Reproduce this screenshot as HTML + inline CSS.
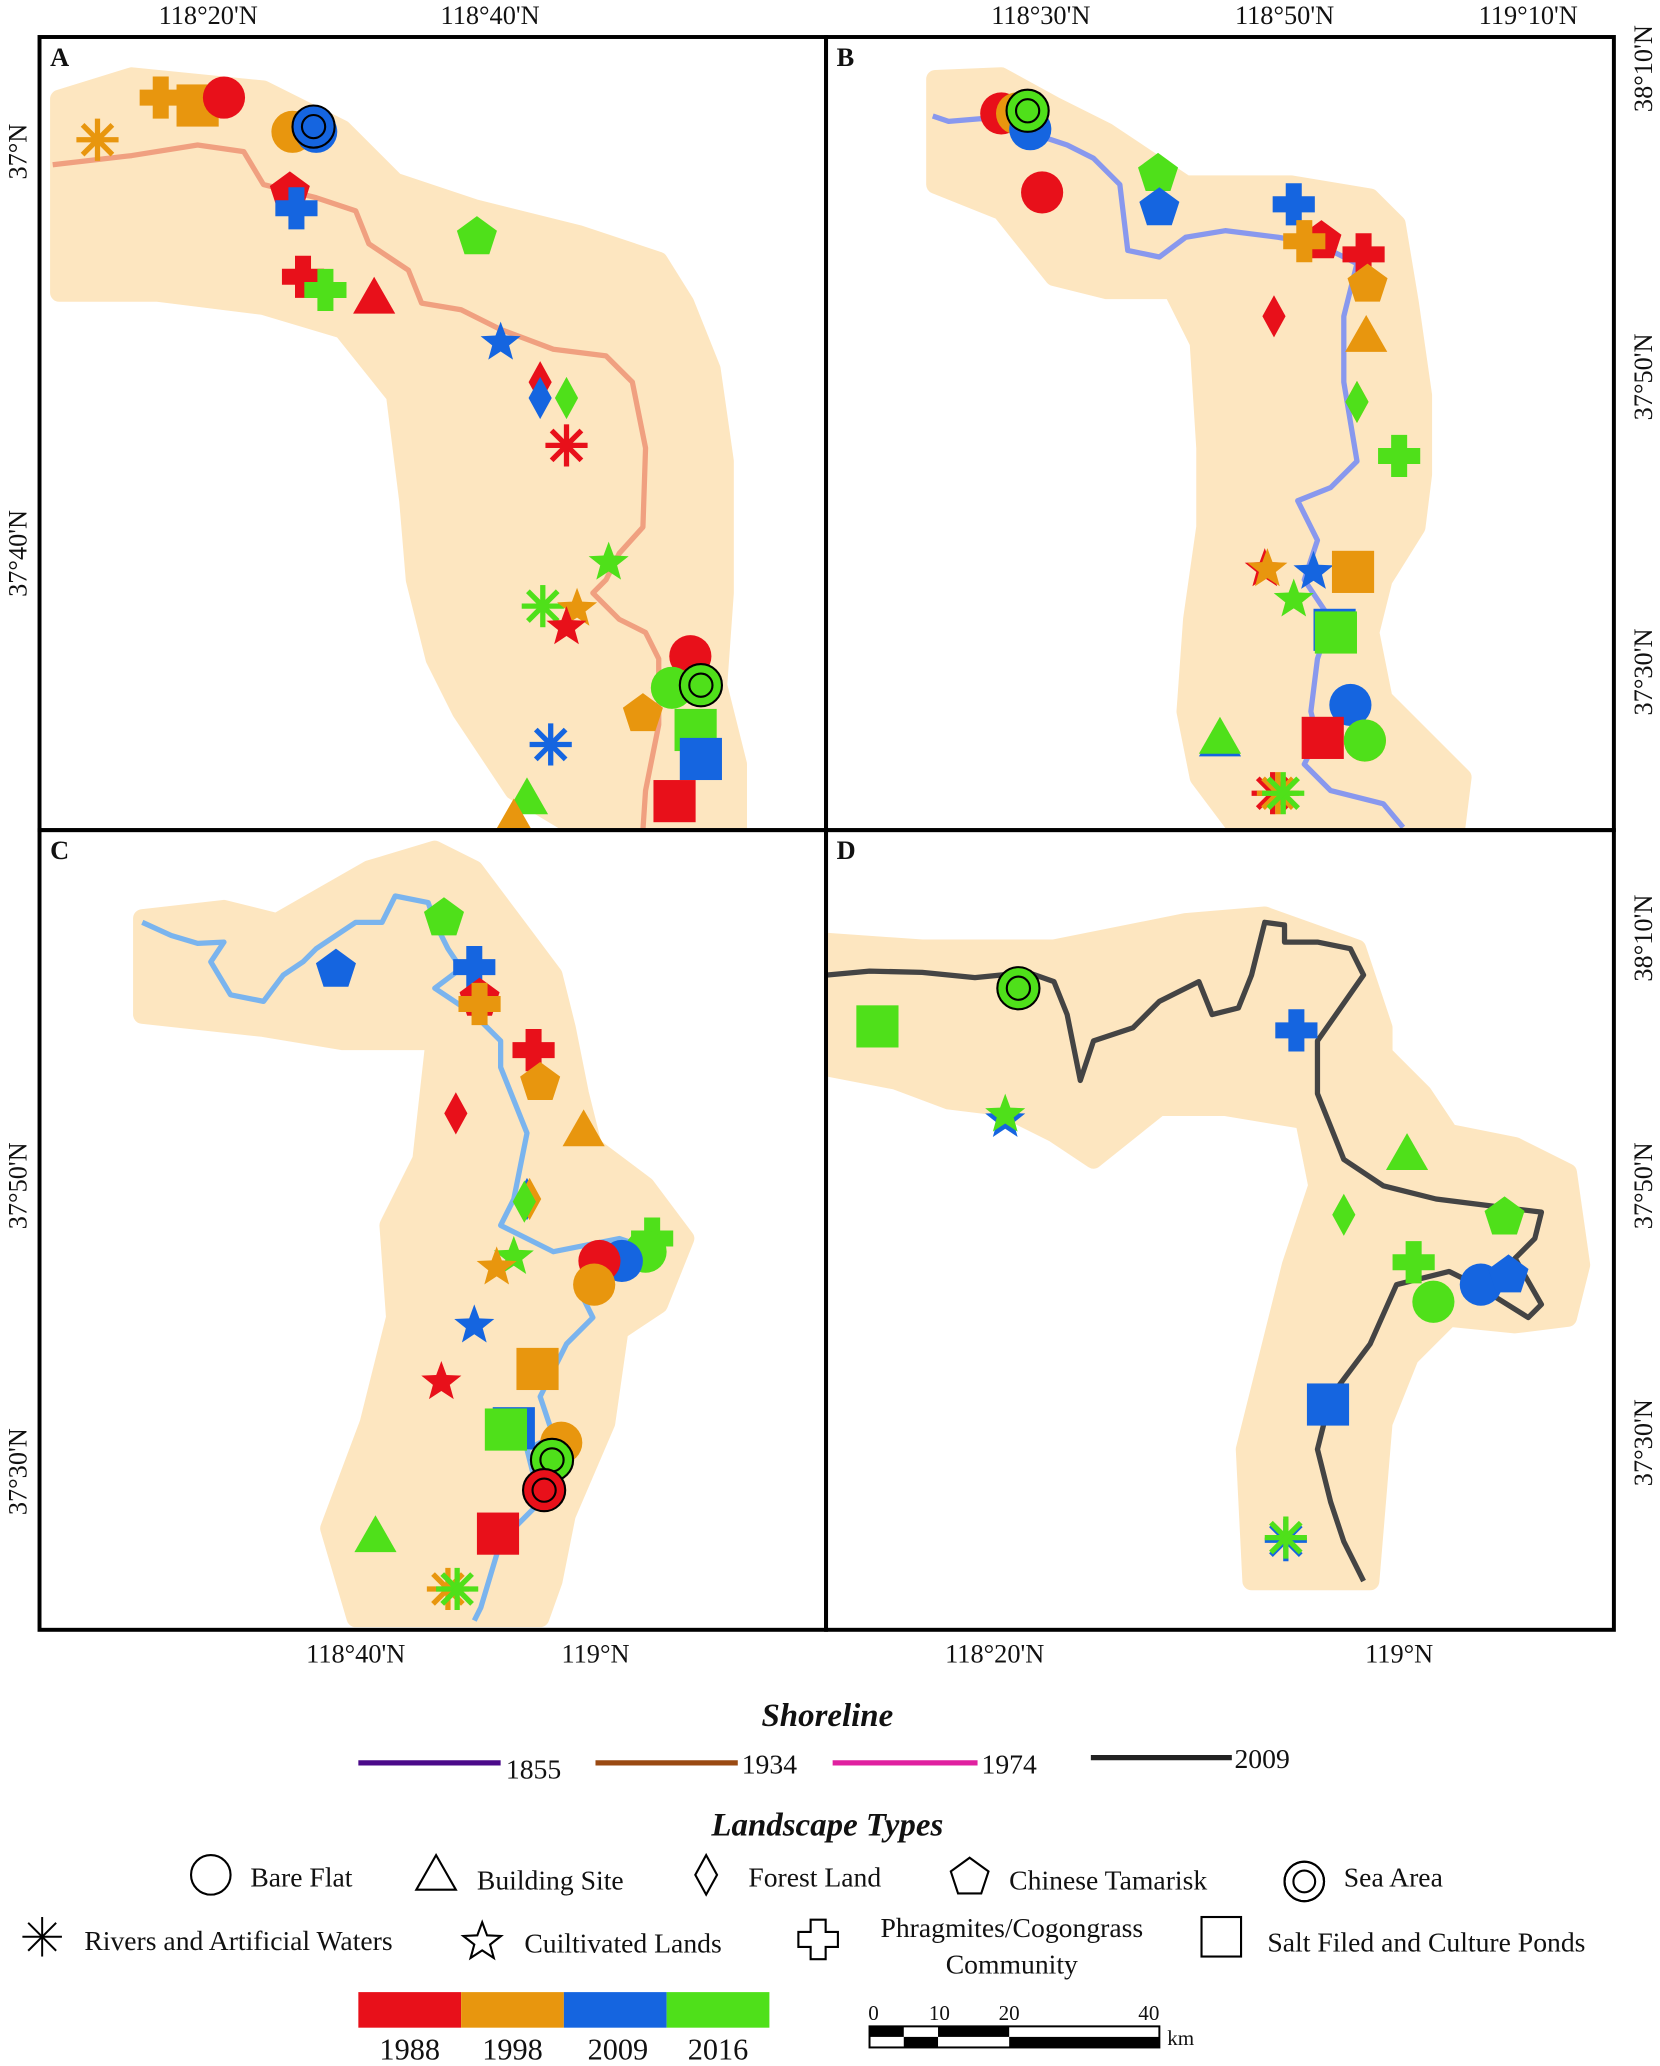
<!DOCTYPE html>
<html><head><meta charset="utf-8"><style>
html,body{margin:0;padding:0;background:#fff;}
svg{display:block;}
text{font-family:"Liberation Serif",serif;fill:#111;}
</style></head><body>
<svg id="map" width="1660" height="2066" viewBox="0 0 1260 1568" xmlns="http://www.w3.org/2000/svg">
<g id="panels"></g>
<g font-size="20">
<text x="158" y="18" text-anchor="middle">118°20'N</text>
<text x="372" y="18" text-anchor="middle">118°40'N</text>
<text x="790" y="18" text-anchor="middle">118°30'N</text>
<text x="975" y="18" text-anchor="middle">118°50'N</text>
<text x="1160" y="18" text-anchor="middle">119°10'N</text>
<text x="270" y="1262" text-anchor="middle">118°40'N</text>
<text x="452" y="1262" text-anchor="middle">119°N</text>
<text x="755" y="1262" text-anchor="middle">118°20'N</text>
<text x="1062" y="1262" text-anchor="middle">119°N</text>
<text transform="translate(20,115) rotate(-90)" text-anchor="middle">37°N</text>
<text transform="translate(20,420) rotate(-90)" text-anchor="middle">37°40'N</text>
<text transform="translate(20,900) rotate(-90)" text-anchor="middle">37°50'N</text>
<text transform="translate(20,1117) rotate(-90)" text-anchor="middle">37°30'N</text>
<text transform="translate(1254,52) rotate(-90)" text-anchor="middle">38°10'N</text>
<text transform="translate(1254,286) rotate(-90)" text-anchor="middle">37°50'N</text>
<text transform="translate(1254,510) rotate(-90)" text-anchor="middle">37°30'N</text>
<text transform="translate(1254,712) rotate(-90)" text-anchor="middle">38°10'N</text>
<text transform="translate(1254,900) rotate(-90)" text-anchor="middle">37°50'N</text>
<text transform="translate(1254,1095) rotate(-90)" text-anchor="middle">37°30'N</text>
</g>
<g font-size="21">
<text x="628" y="1310" text-anchor="middle" font-size="25" font-weight="bold" font-style="italic">Shoreline</text>
<line x1="272" y1="1338" x2="380" y2="1338" stroke="#4b0a8a" stroke-width="4"/><text x="384" y="1350">1855</text>
<line x1="452" y1="1338" x2="560" y2="1338" stroke="#9a4a12" stroke-width="4"/><text x="563" y="1346">1934</text>
<line x1="632" y1="1338" x2="742" y2="1338" stroke="#e020a0" stroke-width="4"/><text x="745" y="1346">1974</text>
<line x1="828" y1="1334" x2="935" y2="1334" stroke="#222" stroke-width="4"/><text x="937" y="1342">2009</text>
</g>
<g id="legend" font-size="21">
<text x="628" y="1393" text-anchor="middle" font-size="25" font-weight="bold" font-style="italic">Landscape Types</text>
<text x="190" y="1432">Bare Flat</text>
<text x="362" y="1434">Building Site</text>
<text x="568" y="1432">Forest Land</text>
<text x="766" y="1434">Chinese Tamarisk</text>
<text x="1020" y="1432">Sea Area</text>
<text x="64" y="1480">Rivers and Artificial Waters</text>
<text x="398" y="1482">Cuiltivated Lands</text>
<text x="768" y="1470" text-anchor="middle">Phragmites/Cogongrass</text>
<text x="768" y="1498" text-anchor="middle">Community</text>
<text x="962" y="1481">Salt Filed and Culture Ponds</text>
</g>
<g font-size="23">
<rect x="272" y="1512" width="78" height="27" fill="#e8101a"/>
<rect x="350" y="1512" width="78" height="27" fill="#e8960e"/>
<rect x="428" y="1512" width="78" height="27" fill="#1565e0"/>
<rect x="506" y="1512" width="78" height="27" fill="#4fe01a"/>
<text x="311" y="1563" text-anchor="middle">1988</text>
<text x="389" y="1563" text-anchor="middle">1998</text>
<text x="469" y="1563" text-anchor="middle">2009</text>
<text x="545" y="1563" text-anchor="middle">2016</text>
</g>
<g font-size="16">
<rect x="660" y="1538" width="220" height="16" fill="#fff" stroke="#000" stroke-width="1.5"/>
<rect x="660" y="1538" width="26" height="8" fill="#000"/>
<rect x="686" y="1546" width="26" height="8" fill="#000"/>
<rect x="712" y="1538" width="54" height="8" fill="#000"/>
<rect x="766" y="1546" width="114" height="8" fill="#000"/>
<text x="663" y="1533" text-anchor="middle">0</text>
<text x="713" y="1533" text-anchor="middle">10</text>
<text x="766" y="1533" text-anchor="middle">20</text>
<text x="872" y="1533" text-anchor="middle">40</text>
<text x="886" y="1552">km</text>
</g>
</svg>
<script>
// Marker data per panel: type, year, x, y (map coordinates within the figure)
const typesA=['q','c','x','r','c','c','s','p','x','p','x','x','t','k','d','d','d','r','k','r','k','k','c','c','s','p','q','q','r','t','t','q'];
const yearsA=['o','r','o','o','o','b','b','r','b','g','r','g','r','b','r','b','g','r','g','g','o','r','r','g','g','o','g','b','b','g','o','r'];
const xA=[150,170,122,74,222,240,238,220,225,362,230,247,284,380,410,410,430,430,462,412,438,430,524,510,532,488,528,532,418,400,390,512];
const yA=[80,74,74,106,100,100,96,146,158,180,210,220,226,260,290,302,302,338,427,460,462,476,498,522,520,542,554,576,565,606,622,608];
const typesB=['c','c','c','s','c','p','p','x','p','x','x','p','d','t','d','d','x','k','k','k','q','k','q','q','c','q','c','c','t','t','r','r','r'];
const yearsB=['r','o','b','g','r','g','b','b','r','o','r','o','r','o','o','g','g','r','o','b','o','g','b','g','b','r','o','g','b','g','r','o','g'];
const xB=[760,772,782,780,791,879,880,982,1003,990,1035,1038,967,1037,1030,1030,1062,960,962,997,1027,982,1013,1014,1025,1004,1036,1036,926,926,966,970,974];
const yB=[86,86,98,84,146,132,158,155,183,183,193,216,240,255,305,305,346,432,432,434,434,455,478,480,535,560,562,562,562,560,602,602,602];
const typesC=['p','p','x','p','x','x','p','d','t','d','d','d','x','c','c','c','c','k','k','k','k','q','q','q','c','s','s','t','q','r','r'];
const yearsC=['g','b','b','r','o','r','o','r','o','b','o','g','g','g','b','r','o','g','o','b','r','o','b','g','o','g','r','g','r','o','g'];
const xC=[337,255,360,364,364,405,410,346,443,400,402,398,495,490,472,455,451,390,377,360,335,408,390,384,426,419,413,285,378,340,347];
const yC=[697,736,734,758,762,797,822,845,858,910,910,912,940,950,957,957,975,954,962,1006,1049,1039,1084,1085,1095,1108,1131,1166,1164,1206,1206];
const typesD=['s','q','x','k','k','t','d','p','x','c','c','p','q','r','r'];
const yearsD=['g','g','b','b','g','g','g','g','g','g','b','b','b','b','g'];
const xD=[773,666,984,763,763,1068,1020,1142,1073,1088,1124,1145,1008,976,976];
const yD=[750,779,782,850,846,876,922,924,958,988,975,968,1066,1169,1167];

const COL={r:'#e8101a',o:'#e8960e',b:'#1565e0',g:'#4fe01a'};
const NS='http://www.w3.org/2000/svg';
function mk(tag,attrs,parent){const e=document.createElementNS(NS,tag);for(const k in attrs)e.setAttribute(k,attrs[k]);parent.appendChild(e);return e;}
function starPts(cx,cy,R,r,n,rot){let p=[];for(let i=0;i<2*n;i++){const a=rot+Math.PI*i/n;const rr=i%2?r:R;p.push((cx+rr*Math.sin(a)).toFixed(1)+','+(cy-rr*Math.cos(a)).toFixed(1));}return p.join(' ');}
function drawMarker(g,t,x,y,fill,stroke,s,name){
  const sw=stroke==='none'?0:1.6;
  let el;
  if(t==='c'||t==='s'){el=mk('circle',{cx:x,cy:y,r:s,fill:fill,stroke:stroke,'stroke-width':sw},g);
    if(t==='s'){mk('circle',{cx:x,cy:y,r:s,fill:'none',stroke:'#000','stroke-width':1.6},g);mk('circle',{cx:x,cy:y,r:s*0.55,fill:'none',stroke:'#000','stroke-width':1.6},g);}}
  else if(t==='t')el=mk('polygon',{points:`${x},${y-s} ${x+s},${y+s*0.75} ${x-s},${y+s*0.75}`,fill:fill,stroke:stroke,'stroke-width':sw},g);
  else if(t==='d')el=mk('polygon',{points:`${x},${y-s} ${x+s*0.55},${y} ${x},${y+s} ${x-s*0.55},${y}`,fill:fill,stroke:stroke,'stroke-width':sw},g);
  else if(t==='p'){let p=[];for(let i=0;i<5;i++){const a=2*Math.PI*i/5;p.push((x+s*Math.sin(a)).toFixed(1)+','+(y-s*Math.cos(a)).toFixed(1));}el=mk('polygon',{points:p.join(' '),fill:fill,stroke:stroke,'stroke-width':sw},g);}
  else if(t==='k')el=mk('polygon',{points:starPts(x,y,s,s*0.42,5,0),fill:fill,stroke:stroke,'stroke-width':sw},g);
  else if(t==='x'){const a=s*0.38;el=mk('polygon',{points:`${x-a},${y-s} ${x+a},${y-s} ${x+a},${y-a} ${x+s},${y-a} ${x+s},${y+a} ${x+a},${y+a} ${x+a},${y+s} ${x-a},${y+s} ${x-a},${y+a} ${x-s},${y+a} ${x-s},${y-a} ${x-a},${y-a}`,fill:fill,stroke:stroke,'stroke-width':sw},g);}
  else if(t==='q')el=mk('rect',{x:x-s,y:y-s,width:2*s,height:2*s,fill:fill,stroke:stroke,'stroke-width':sw},g);
  else if(t==='r'){el=mk('g',{},g);for(let i=0;i<4;i++){const a=Math.PI*i/4;mk('line',{x1:x-s*Math.sin(a),y1:y-s*Math.cos(a),x2:x+s*Math.sin(a),y2:y+s*Math.cos(a),stroke:stroke==='none'?fill:'#000','stroke-width':stroke==='none'?4:1.5},el);}}
  
  
  return el;
}
const panels=[
 {id:'A',x:30,y:28,w:597,h:602,line:'#f0a080',buf:[[45,75],[100,58],[200,68],[260,98],[300,138],[360,158],[440,178],[500,198],[520,230],[540,280],[550,350],[550,450],[545,520],[560,580],[560,630],[440,630],[390,600],[350,540],[330,500],[315,440],[310,380],[300,300],[260,250],[200,232],[120,222],[45,222]],
  shore:[[40,125],[100,118],[150,110],[185,115],[200,140],[240,150],[270,160],[280,185],[310,205],[320,230],[350,235],[380,250],[420,265],[460,270],[480,290],[490,340],[488,400],[470,420],[460,440],[450,450],[470,470],[490,480],[500,500],[500,550],[490,600],[488,630]],
  t:typesA,yr:yearsA,xs:xA,ys:yA},
 {id:'B',x:627,y:28,w:598,h:602,line:'#8898ee',buf:[[710,60],[760,58],[800,80],[840,100],[900,140],[980,140],[1040,150],[1060,170],[1070,230],[1080,300],[1080,360],[1075,400],[1050,440],[1040,480],[1050,530],[1080,560],[1110,590],[1105,630],[940,630],[910,590],[900,540],[905,470],[915,400],[915,340],[910,260],[890,220],[840,220],[800,210],[760,160],[710,140]],
  shore:[[708,88],[720,92],[745,90],[780,100],[810,110],[830,120],[850,140],[856,190],[880,195],[900,180],[930,175],[970,180],[1000,185],[1030,200],[1020,240],[1020,290],[1030,350],[1010,370],[985,380],[1000,410],[990,440],[1010,470],[1000,500],[995,540],[1000,560],[990,580],[1010,600],[1050,610],[1065,628]],
  t:typesB,yr:yearsB,xs:xB,ys:yB},
 {id:'C',x:30,y:630,w:597,h:607,line:'#7ab4ee',buf:[[108,697],[170,690],[210,700],[280,660],[330,645],[360,660],[390,700],[420,740],[430,780],[440,830],[450,870],[490,900],[520,940],[500,990],[470,1010],[460,1080],[430,1150],[420,1200],[410,1228],[270,1228],[250,1160],[280,1080],[300,1000],[295,930],[320,880],[330,790],[260,790],[200,780],[108,770]],
  shore:[[108,700],[130,710],[150,716],[170,715],[160,730],[175,755],[200,760],[215,740],[230,730],[240,720],[270,700],[290,700],[300,680],[325,685],[330,700],[340,720],[350,735],[330,750],[360,770],[380,790],[380,810],[400,860],[390,910],[380,930],[420,950],[470,940],[500,950],[470,965],[440,980],[450,1000],[430,1020],[410,1060],[420,1090],[400,1100],[410,1140],[380,1170],[365,1220],[360,1230]],
  t:typesC,yr:yearsC,xs:xC,ys:yC},
 {id:'D',x:627,y:630,w:598,h:607,line:'#444444',buf:[[628,715],[700,720],[800,720],[900,700],[960,695],[1030,720],[1050,780],[1050,800],[1080,830],[1100,860],[1150,870],[1190,890],[1200,960],[1190,1000],[1150,1005],[1100,1000],[1070,1030],[1050,1080],[1040,1200],[950,1200],[945,1100],[960,1040],[980,960],[1000,900],[990,850],[930,840],[880,840],[830,880],[800,860],[760,840],[720,835],[680,820],[628,810]],
  shore:[[628,740],[660,737],[700,738],[740,742],[780,738],[800,745],[810,770],[820,820],[830,790],[860,780],[880,760],[910,745],[920,770],[940,765],[950,740],[960,700],[975,702],[975,715],[1000,715],[1025,720],[1035,740],[1000,790],[1000,830],[1020,880],[1050,900],[1090,910],[1130,915],[1170,920],[1165,940],[1150,955],[1170,990],[1160,1000],[1120,975],[1100,965],[1060,975],[1040,1020],[1010,1060],[1000,1100],[1010,1140],[1020,1170],[1035,1200]],
  t:typesD,yr:yearsD,xs:xD,ys:yD}
];
const root=document.getElementById('panels');
panels.forEach(P=>{
  const g=mk('g',{},root);
  
  
  const cid='clip'+P.id;
  const cp=mk('clipPath',{id:cid},g);mk('rect',{x:P.x,y:P.y,width:P.w,height:P.h},cp);
  const inner=mk('g',{'clip-path':`url(#${cid})`},g);
  const buf=mk('polygon',{points:P.buf.map(p=>p.join(',')).join(' '),fill:'#fde6c0',stroke:'#fde6c0','stroke-width':14,'stroke-linejoin':'round'},inner);
  
  
  const sh=mk('polyline',{points:P.shore.map(p=>p.join(',')).join(' '),fill:'none',stroke:P.line,'stroke-width':4,'stroke-linejoin':'round'},inner);
  
  
  for(let i=0;i<P.t.length;i++){
    drawMarker(inner,P.t[i],P.xs[i],P.ys[i],COL[P.yr[i]],'none',16,'marker-'+P.id.toLowerCase()+'-'+i);
  }
  const fr=mk('rect',{x:P.x,y:P.y,width:P.w,height:P.h,fill:'none',stroke:'#000','stroke-width':3},g);
  
  
  const lb=mk('text',{x:P.x+8,y:P.y+22,'font-family':'Liberation Sans,sans-serif','font-weight':'bold','font-size':20},g);
  lb.textContent=P.id;
  
  
});
// legend symbols
const lg=document.getElementById('legend');
const legendTypes=['c','t','d','p','s','r','k','x','q'];
const legendX=[160,331,536,736,990,32,366,621,927];
const legendY=[1423,1423,1423,1425,1428,1470,1474,1472,1470];
for(let i=0;i<legendTypes.length;i++){
  drawMarker(lg,legendTypes[i],legendX[i],legendY[i],'#fff','#000',15,'legend-symbol-'+i);
}
</script>
</body></html>
